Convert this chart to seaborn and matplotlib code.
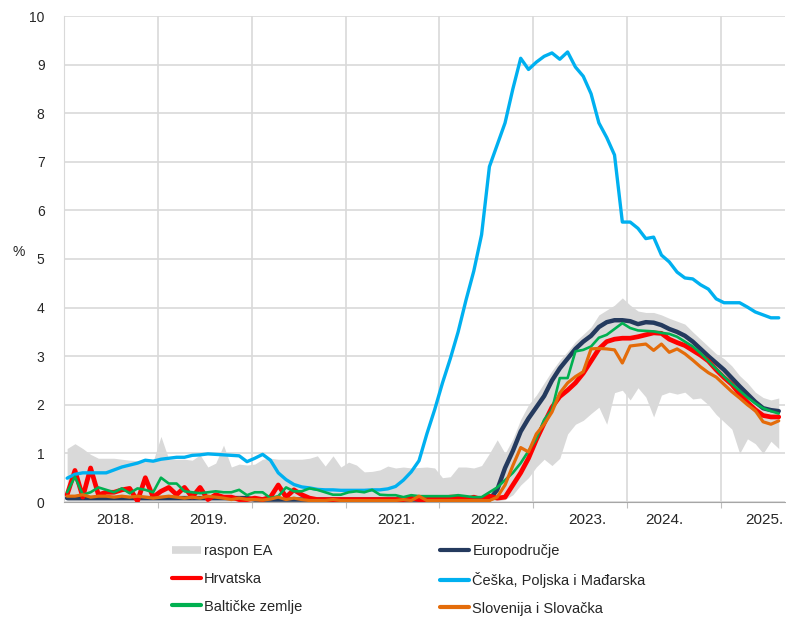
import numpy as np
import pandas as pd
import seaborn as sns
import matplotlib.pyplot as plt
from matplotlib.lines import Line2D

# mjesečni podaci, siječanj 2018. - kolovoz 2025.
band_hi = [1.1, 1.2, 1.1, 0.98, 0.9, 0.9, 0.9, 0.88, 0.86, 0.85, 0.84, 0.84,
           1.35, 0.88, 0.88, 0.88, 0.86, 0.97, 0.72, 0.8, 1.17, 0.72, 0.78, 0.76,
           0.78, 0.88, 0.9, 0.88, 0.88, 0.88, 0.88, 0.9, 0.95, 0.74, 0.95, 0.72,
           0.82, 0.76, 0.62, 0.63, 0.66, 0.74, 0.7, 0.72, 0.7, 0.71, 0.72, 0.7,
           0.5, 0.52, 0.72, 0.72, 0.7, 0.75, 1.0, 1.28, 1.0, 1.3, 1.7, 2.0,
           2.2, 2.45, 2.7, 2.92, 3.1, 3.3, 3.45, 3.6, 3.85, 3.95, 4.05, 4.2,
           4.05, 3.93, 3.9, 3.9, 3.85, 3.78, 3.72, 3.66, 3.5, 3.35, 3.2, 3.05,
           2.95, 2.8, 2.6, 2.45, 2.26, 2.15, 2.1, 2.14]
band_lo = [0.0] * 54 + [
           0.0, 0.02, 0.05, 0.15, 0.35, 0.5,
           0.72, 0.88, 0.75, 0.9, 1.4, 1.6, 1.68, 1.82, 1.95, 1.6, 2.25, 2.3,
           2.1, 2.35, 2.16, 1.75, 2.2, 2.26, 2.22, 2.26, 2.12, 2.14, 2.0, 1.8,
           1.65, 1.5, 1.0, 1.3, 1.2, 1.0, 1.25, 1.1]
ea = [0.08] * 24 + [0.05] * 25 + [
      0.05, 0.05, 0.05, 0.04, 0.04, 0.05, 0.25, 0.7, 1.05, 1.45, 1.72,
      1.95, 2.18, 2.5, 2.75, 2.95, 3.15, 3.3, 3.42, 3.6, 3.7, 3.74, 3.74,
      3.72, 3.66, 3.7, 3.69, 3.64, 3.56, 3.5, 3.42, 3.3, 3.15, 3.0, 2.86,
      2.72, 2.55, 2.38, 2.22, 2.06, 1.93, 1.89, 1.87]
hr = [0.15, 0.65, 0.1, 0.7, 0.15, 0.2, 0.2, 0.25, 0.28, 0.02, 0.5, 0.1,
      0.22, 0.3, 0.15, 0.3, 0.1, 0.3, 0.05, 0.15, 0.1, 0.1, 0.05, 0.05,
      0.08, 0.05, 0.1, 0.35, 0.1, 0.25, 0.15, 0.08, 0.05, 0.05, 0.05, 0.05,
      0.05, 0.05, 0.05, 0.05, 0.05, 0.05, 0.05, 0.05, 0.08, 0.05, 0.05, 0.08,
      0.08, 0.1, 0.1, 0.05, 0.1, 0.05, 0.12, 0.08, 0.1, 0.35, 0.6, 0.9,
      1.28, 1.62, 1.95, 2.17, 2.3, 2.45, 2.65, 2.9, 3.15, 3.3, 3.35, 3.37,
      3.37, 3.4, 3.44, 3.48, 3.47, 3.35, 3.28, 3.22, 3.12, 3.02, 2.9, 2.72,
      2.56, 2.42, 2.22, 2.05, 1.9, 1.78, 1.75, 1.75]
cpm = [0.49, 0.57, 0.6, 0.6, 0.6, 0.6, 0.66, 0.72, 0.76, 0.8, 0.86, 0.84,
       0.88, 0.9, 0.92, 0.92, 0.96, 0.97, 0.99, 0.98, 0.97, 0.96, 0.95, 0.83,
       0.9, 0.98, 0.86, 0.6, 0.46, 0.36, 0.31, 0.29, 0.26, 0.25, 0.25, 0.24,
       0.24, 0.24, 0.24, 0.25, 0.25, 0.27, 0.32, 0.45, 0.62, 0.85, 1.4, 1.9,
       2.45, 2.95, 3.5, 4.15, 4.75, 5.5, 6.9, 7.35, 7.8, 8.5, 9.13, 8.9,
       9.05, 9.17, 9.24, 9.11, 9.26, 8.95, 8.76, 8.4, 7.8, 7.5, 7.14, 5.76,
       5.76, 5.63, 5.42, 5.45, 5.08, 4.94, 4.73, 4.61, 4.59, 4.47, 4.38, 4.18,
       4.1, 4.1, 4.1, 4.01, 3.91, 3.85, 3.79, 3.79]
balt = [0.2, 0.52, 0.15, 0.2, 0.3, 0.25, 0.2, 0.28, 0.18, 0.28, 0.25, 0.2,
        0.5, 0.38, 0.38, 0.22, 0.2, 0.18, 0.2, 0.22, 0.2, 0.2, 0.25, 0.14,
        0.2, 0.2, 0.08, 0.12, 0.3, 0.22, 0.22, 0.28, 0.25, 0.2, 0.15, 0.15,
        0.2, 0.22, 0.2, 0.25, 0.15, 0.14, 0.14, 0.1, 0.14, 0.12, 0.12, 0.12,
        0.12, 0.12, 0.14, 0.12, 0.1, 0.1, 0.2, 0.3, 0.45, 0.6, 0.8, 1.05,
        1.3, 1.69, 1.9, 2.55, 2.55, 3.1, 3.13, 3.2, 3.38, 3.44, 3.56, 3.68,
        3.58, 3.53, 3.52, 3.51, 3.48, 3.46, 3.4, 3.3, 3.2, 3.06, 2.9, 2.74,
        2.58, 2.43, 2.29, 2.15, 2.03, 1.93, 1.87, 1.82]
sisk = [0.12, 0.12, 0.15, 0.1, 0.12, 0.12, 0.1, 0.12, 0.1, 0.12, 0.1, 0.08,
        0.1, 0.12, 0.1, 0.08, 0.1, 0.08, 0.12, 0.1, 0.08, 0.05, 0.08, 0.05,
        0.05, 0.04, 0.06, 0.1, 0.05, 0.08, 0.05, 0.03, 0.03, 0.03, 0.05, 0.03,
        0.03, 0.03, 0.03, 0.03, 0.03, 0.03, 0.03, 0.05, 0.03, 0.12, 0.03, 0.03,
        0.03, 0.03, 0.03, 0.03, 0.03, 0.03, 0.03, 0.1, 0.35, 0.75, 1.12, 1.03,
        1.4, 1.6, 1.85, 2.24, 2.45, 2.58, 2.68, 3.15, 3.16, 3.15, 3.13, 2.86,
        3.21, 3.23, 3.25, 3.12, 3.25, 3.08, 3.15, 3.05, 2.92, 2.78, 2.66, 2.57,
        2.42, 2.27, 2.14, 2.0, 1.88, 1.65, 1.6, 1.67]
years = ["2018.", "2019.", "2020.", "2021.", "2022.", "2023.", "2024.", "2025."]
year_pos = [6.5, 18.4, 30.4, 42.5, 54.4, 66.9, 76.8, 89.5]

x = np.arange(len(ea)) + 0.4
df = pd.DataFrame({"x": x, "ea": ea, "hr": hr, "cpm": cpm, "balt": balt, "sisk": sisk})

sns.set_style("white")
plt.rcParams["font.family"] = ["Liberation Sans", "DejaVu Sans"]

fig = plt.figure(figsize=(7.86, 6.19), dpi=100)
ax = fig.add_axes([64 / 786, 117 / 619, 721 / 786, 486 / 619])

# serije: (ključ, oznaka, boja, debljina)
series = [("ea", "Europodručje", "#243a5e", 3.2),
          ("hr", "Hrvatska", "#ff0000", 3.4),
          ("cpm", "Češka, Poljska i Mađarska", "#00b0f0", 2.4),
          ("balt", "Baltičke zemlje", "#00b050", 1.9),
          ("sisk", "Slovenija i Slovačka", "#e46c0a", 2.3)]

ax.fill_between(x, band_lo, band_hi, color="#d9d9d9", lw=0, zorder=1)
for z, (key, lab, col, lw) in enumerate(series):
    sns.lineplot(data=df, x="x", y=key, color=col, lw=lw, ax=ax, zorder=3 + z)

ax.set_xlim(0, 92.2)
ax.set_ylim(0, 10)
ax.set_yticks(range(0, 11))
ax.set_xticks(range(12, 92, 12))
ax.set_xticklabels([])
ax.set_xticks(year_pos, minor=True)
ax.set_xticklabels(years, minor=True)
ax.grid(True, which="major", color="#d9d9d9", lw=1.2)
ax.set_axisbelow(True)
ax.tick_params(axis="x", which="major", length=4, color="#bfbfbf", direction="out", bottom=True)
ax.tick_params(axis="x", which="minor", length=0, pad=8, labelsize=11)
ax.tick_params(axis="y", length=0, pad=14, labelsize=10)
for s in ["top", "right"]:
    ax.spines[s].set_visible(False)
ax.spines["left"].set_color("#d9d9d9")
ax.spines["bottom"].set_color("#a6a6a6")
ax.set_xlabel("")
ax.set_ylabel("%", rotation=0, fontsize=10)
ax.yaxis.set_label_coords(-0.063, 0.5)

cols = {lab: (col, lw) for _, lab, col, lw in series}
order = ["raspon EA", "Hrvatska", "Baltičke zemlje", "Europodručje", "Češka, Poljska i Mađarska", "Slovenija i Slovačka"]
handles = []
for o in order:
    if o == "raspon EA":
        handles.append(Line2D([], [], color="#d9d9d9", lw=5.5, solid_capstyle="butt"))
    else:
        handles.append(Line2D([], [], color=cols[o][0], lw=3.0, solid_capstyle="round"))
fig.legend(handles, order, ncol=2, loc="upper left", bbox_to_anchor=(159 / 786, 1 - 531 / 619),
           frameon=False, fontsize=10.5, handlelength=2.0, handletextpad=0.2,
           columnspacing=9.45, labelspacing=0.94)

plt.savefig("out.png", dpi=100)
